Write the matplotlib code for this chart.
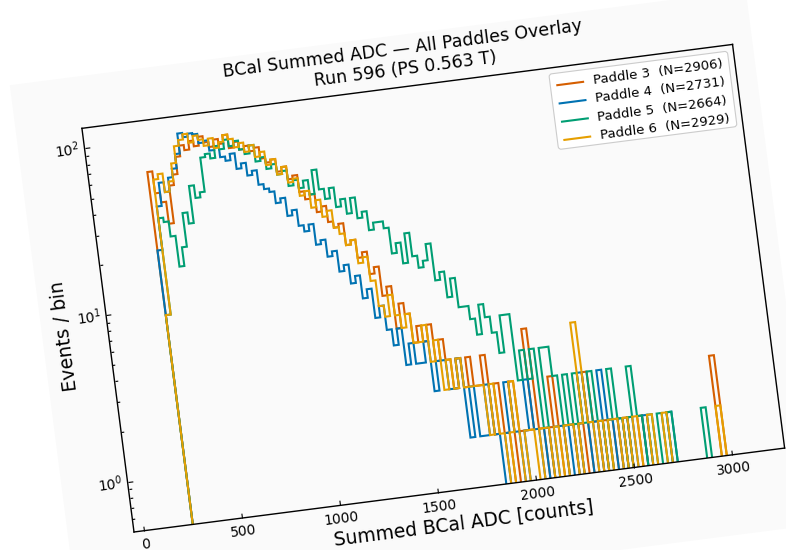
import numpy as np
import matplotlib
matplotlib.use("Agg")
import matplotlib.pyplot as plt
from matplotlib.transforms import Affine2D, IdentityTransform, blended_transform_factory
from matplotlib.scale import LogTransform
from matplotlib.patches import Rectangle, FancyBboxPatch
from matplotlib.lines import Line2D
from mpl_toolkits.axisartist.floating_axes import FloatingAxes, GridHelperCurveLinear
from mpl_toolkits.axisartist.grid_finder import FixedLocator, DictFormatter

# ---- data: counts per 25-count bin, first bin starts at 250 ----
EDGES = np.arange(250, 3001, 25)

P3 = [65, 48, 42, 31, 52, 60, 76, 88, 82, 92,
      85, 96, 88, 82, 90, 84, 94, 78, 84, 75,
      78, 72, 75, 64, 60, 62, 52, 55, 46, 48,
      38, 34, 36, 28, 30, 24, 22, 23, 17, 18,
      14, 15, 11, 12, 8, 9, 5, 7, 6, 4,
      5, 4, 5, 3, 4, 3, 2, 3, 2, 3,
      2, 2, 3, 1, 2, 1, 0, 2, 1, 1,
      1, 4, 1, 0, 1, 2, 0, 1, 1, 0,
      1, 0, 2, 1, 0, 1, 0, 1, 0, 1,
      0, 0, 1, 0, 0, 0, 0, 0, 0, 0,
      0, 0, 0, 0, 0, 0, 0, 0, 2, 0]
P4 = [22, 40, 55, 48, 58, 65, 79, 104, 98, 102,
      100, 88, 90, 78, 82, 70, 66, 72, 58, 62,
      52, 55, 45, 42, 40, 34, 36, 28, 30, 24,
      22, 24, 18, 19, 15, 16, 12, 13, 10, 11,
      8, 9, 6, 7, 5, 4, 5, 3, 4, 3,
      3, 4, 2, 3, 3, 2, 2, 3, 1, 2,
      1, 1, 2, 1, 0, 1, 2, 1, 0, 1,
      2, 1, 0, 1, 0, 1, 1, 0, 1, 0,
      1, 2, 0, 1, 0, 2, 1, 0, 1, 0,
      1, 0, 0, 1, 0, 0, 0, 0, 1, 0,
      0, 0, 0, 0, 0, 0, 0, 0, 0, 0]
P5 = [9, 34, 32, 26, 17, 22, 35, 30, 50, 42,
      45, 72, 75, 70, 82, 78, 88, 80, 85, 75,
      70, 78, 62, 65, 55, 58, 50, 52, 42, 45,
      40, 44, 36, 50, 38, 33, 38, 29, 32, 26,
      32, 24, 26, 20, 22, 22, 20, 14, 16, 12,
      18, 13, 11, 12, 15, 9, 10, 7, 9, 6,
      6, 5, 4, 6, 5, 4, 3, 5, 5, 2,
      3, 2, 3, 1, 3, 3, 2, 1, 2, 1,
      2, 1, 1, 2, 1, 0, 1, 2, 1, 0,
      1, 2, 1, 0, 1, 0, 1, 0, 1, 0,
      0, 0, 0, 0, 0, 1, 0, 0, 0, 0]
P6 = [9, 58, 62, 48, 55, 70, 88, 95, 102, 90,
      98, 92, 84, 92, 80, 86, 94, 88, 78, 82,
      72, 78, 66, 70, 58, 62, 50, 55, 44, 46,
      36, 38, 30, 33, 26, 28, 22, 20, 17, 18,
      13, 14, 10, 7, 6, 8, 6, 5, 6, 4,
      4, 5, 3, 4, 2, 3, 2, 3, 2, 2,
      2, 2, 1, 2, 1, 0, 1, 2, 0, 1,
      1, 0, 1, 1, 0, 1, 0, 1, 1, 0,
      1, 4, 1, 0, 1, 0, 1, 1, 0, 1,
      0, 1, 0, 0, 1, 0, 0, 1, 0, 0,
      0, 0, 0, 0, 0, 0, 0, 0, 1, 0]

PADDLES = [3, 4, 5, 6]
N_EVENTS = [2906, 2731, 2664, 2929]
COUNTS = [P3, P4, P5, P6]
COLORS = ["#D55E00", "#0072B2", "#009E73", "#E69F00"]

XLIM = (-50, 3270)
YLIM = (0.5, 132)
XTICKS = [0, 500, 1000, 1500, 2000, 2500, 3000]
YTICKS = [1, 10, 100]
YTICK_LABELS = [r"$10^{0}$", r"$10^{1}$", r"$10^{2}$"]
YMINOR = [0.6, 0.7, 0.8, 0.9, 2, 3, 4, 5, 6, 7, 8, 9,
          20, 30, 40, 50, 60, 70, 80, 90]

TITLE = "BCal Summed ADC \u2014 All Paddles Overlay\nRun 596 (PS 0.563 T)"
XLABEL = "Summed BCal ADC [counts]"
YLABEL = "Events / bin"

# ---- page geometry: the whole sheet is tilted ----
FIG_W, FIG_H = 786, 550
TILT = 7.35
BOX_W, BOX_H = 656, 407
BOX_ORIGIN = (134, 18)      # lower-left corner of the frame, px from the bottom-left
PAPER = "#fafafa"

c, s = np.cos(np.radians(TILT)), np.sin(np.radians(TILT))
cx = [0, BOX_W * c, BOX_W * c - BOX_H * s, -BOX_H * s]
cy = [0, BOX_W * s, BOX_W * s + BOX_H * c, BOX_H * c]
mx, my = (min(cx) + max(cx)) / 2, (min(cy) + max(cy)) / 2
hw, hh = (max(cx) - min(cx)) * 1.02 / 2, (max(cy) - min(cy)) * 1.02 / 2
rect = [(BOX_ORIGIN[0] + mx - hw) / FIG_W, (BOX_ORIGIN[1] + my - hh) / FIG_H,
        2 * hw / FIG_W, 2 * hh / FIG_H]

ly0, ly1 = np.log10(YLIM)
data_tr = (blended_transform_factory(IdentityTransform(), LogTransform(10))
           + Affine2D().translate(-XLIM[0], -ly0)
           .scale(BOX_W / (XLIM[1] - XLIM[0]), BOX_H / (ly1 - ly0))
           .rotate_deg(TILT))

fig = plt.figure(figsize=(FIG_W / 100, FIG_H / 100), dpi=100)
fig.patch.set_facecolor("white")


def tilted_axes(ylocs, ylabels):
    gh = GridHelperCurveLinear(
        data_tr, extremes=(XLIM[0], XLIM[1], YLIM[0], YLIM[1]),
        grid_locator1=FixedLocator(XTICKS),
        grid_locator2=FixedLocator(ylocs),
        tick_formatter1=DictFormatter({v: str(v) for v in XTICKS}),
        tick_formatter2=DictFormatter(dict(zip(ylocs, ylabels))))
    return fig.add_axes(rect, axes_class=FloatingAxes, grid_helper=gh)


ax = tilted_axes(YTICKS, YTICK_LABELS)
ax.patch.set_facecolor(PAPER)
for side in ["top", "right"]:
    ax.axis[side].toggle(ticks=False, ticklabels=False)
for side in ["left", "bottom"]:
    ax.axis[side].major_ticks.set_ticksize(3.5)
    ax.axis[side].major_ticklabels.set_fontsize(10)
ax.axis["bottom"].major_ticklabels.set_pad(5.5)
for side in ax.axis:
    ax.axis[side].line.set_linewidth(1.0)

# minor ticks of the log axis on an overlaid copy
axm = tilted_axes(YMINOR, [""] * len(YMINOR))
axm.patch.set_visible(False)
for side in ["top", "right", "bottom"]:
    axm.axis[side].set_visible(False)
axm.axis["left"].line.set_visible(False)
axm.axis["left"].major_ticklabels.set_visible(False)
axm.axis["left"].major_ticks.set_ticksize(2)

aux = ax.get_aux_axes(data_tr)
aux.patch = ax.patch
ax.patch.zorder = 0.9

for counts, color in zip(COUNTS, COLORS):
    aux.stairs(counts, EDGES, color=color, lw=1.5)

# everything else is laid out in the upright frame (pixels from frame corner)
up = Affine2D().rotate_deg(TILT) + ax.transData

sheet = Rectangle((-66, -80), 742, 539, transform=up, facecolor=PAPER,
                  edgecolor="none", zorder=-5)
fig.add_artist(sheet)

fig.text(BOX_W / 2, BOX_H + 8, TITLE, transform=up, rotation=TILT,
         rotation_mode="anchor", ha="center", va="bottom", fontsize=12.5,
         multialignment="center")
fig.text(BOX_W / 2, -34, XLABEL, transform=up, rotation=TILT,
         rotation_mode="anchor", ha="center", va="center", fontsize=13.5)
fig.text(-44, BOX_H / 2, YLABEL, transform=up, rotation=TILT + 90,
         rotation_mode="anchor", ha="center", va="center", fontsize=13.5)

# legend, upper right
leg_u0, leg_v0, leg_w, leg_h = 470, 325, 180, 76
fig.add_artist(FancyBboxPatch((leg_u0, leg_v0), leg_w, leg_h,
                              boxstyle="round,pad=0,rounding_size=3",
                              transform=up, facecolor="white", edgecolor="#cccccc",
                              lw=0.8, zorder=4))
for i, (p, n, color) in enumerate(zip(PADDLES, N_EVENTS, COLORS)):
    v = leg_v0 + leg_h - 12 - i * 18.4
    fig.add_artist(Line2D([leg_u0 + 7, leg_u0 + 33], [v, v], transform=up,
                          color=color, lw=1.5, zorder=5))
    fig.text(leg_u0 + 43, v, f"Paddle {p}  (N={n})", transform=up,
             rotation=TILT, rotation_mode="anchor", ha="left", va="center",
             fontsize=9.5, zorder=5)

fig.savefig("out.png", dpi=100)
